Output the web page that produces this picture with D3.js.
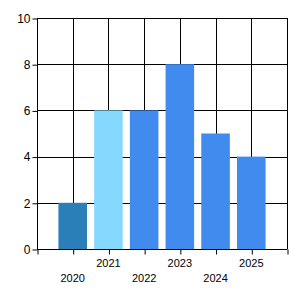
<!DOCTYPE html>
<html>
<head>
<meta charset="utf-8">
<script src="https://cdn.jsdelivr.net/npm/d3@7"></script>
<style>
  body { margin: 0; background: #fff; }
  .axis text { font-family: "Liberation Sans", Arial, sans-serif; font-size: 12px; fill: #000; }
  .xlabels text { font-size: 11px; }
</style>
</head>
<body>
<div class="chart"></div>
<script>
const WIDTH = 300;
const HEIGHT = 300;

const LEFT = 37, TOP = 18, RIGHT = 287, BOTTOM = 249;

var years = ["2020", "2021", "2022", "2023", "2024", "2025"];
var values = [2, 6, 6, 8, 5, 4];
var colors = ["#2a7fb8", "#87d8fe", "#418bef", "#418bef", "#418bef", "#418bef"];
var yTicks = [0, 2, 4, 6, 8, 10];
var xTicks = [0, 1, 2, 3, 4, 5, 6, 7];

var _svg = d3.select('.chart').append('svg')
    .attr('width', WIDTH)
    .attr('height', HEIGHT);

var _xScale = d3.scaleLinear()
    .domain([0, years.length + 1])
    .range([LEFT, RIGHT]);

var _yScale = d3.scaleLinear()
    .domain([0, 10])
    .range([BOTTOM, TOP]);

var BAR_W = (_xScale(1) - _xScale(0)) * 0.8;

// grid
var grid = _svg.append('g').attr('class', 'grid');
grid.selectAll('line.h').data(yTicks)
    .enter().append('line')
    .attr('x1', LEFT).attr('x2', RIGHT)
    .attr('y1', d => Math.round(_yScale(d)) + 0.5)
    .attr('y2', d => Math.round(_yScale(d)) + 0.5)
    .attr('stroke', '#000');
grid.selectAll('line.v').data(xTicks)
    .enter().append('line')
    .attr('y1', TOP).attr('y2', BOTTOM)
    .attr('x1', d => Math.round(_xScale(d)) + 0.5)
    .attr('x2', d => Math.round(_xScale(d)) + 0.5)
    .attr('stroke', '#000');

// bars
_svg.append('g').selectAll('rect').data(values)
    .enter().append('rect')
    .attr('x', (d, i) => _xScale(i + 1) - BAR_W / 2)
    .attr('width', BAR_W)
    .attr('y', d => _yScale(d))
    .attr('height', d => _yScale(0) - _yScale(d))
    .attr('fill', (d, i) => colors[i]);

// axes
var yAxis = d3.axisLeft(_yScale).tickValues(yTicks).tickSize(5).tickPadding(2);
_svg.append('g')
    .attr('class', 'axis')
    .attr('transform', 'translate(' + (LEFT + 0.5) + ',0.5)')
    .call(yAxis)
    .call(g => g.select('.domain').remove())
    .call(g => g.selectAll('line').attr('stroke', '#000'));

var xAxis = d3.axisBottom(_xScale).tickValues(xTicks).tickSize(5).tickFormat('');
_svg.append('g')
    .attr('class', 'axis')
    .attr('transform', 'translate(0.5,' + (BOTTOM + 0.5) + ')')
    .call(xAxis)
    .call(g => g.select('.domain').attr('stroke', '#000').attr('d', 'M' + LEFT + ',0H' + RIGHT))
    .call(g => g.selectAll('line').attr('stroke', '#000'));

// staggered year labels
_svg.append('g').attr('class', 'axis xlabels')
    .selectAll('text').data(years)
    .enter().append('text')
    .attr('x', (d, i) => _xScale(i + 1))
    .attr('y', (d, i) => i % 2 === 0 ? 282 : 267)
    .attr('text-anchor', 'middle')
    .text(d => d);
</script>
</body>
</html>
